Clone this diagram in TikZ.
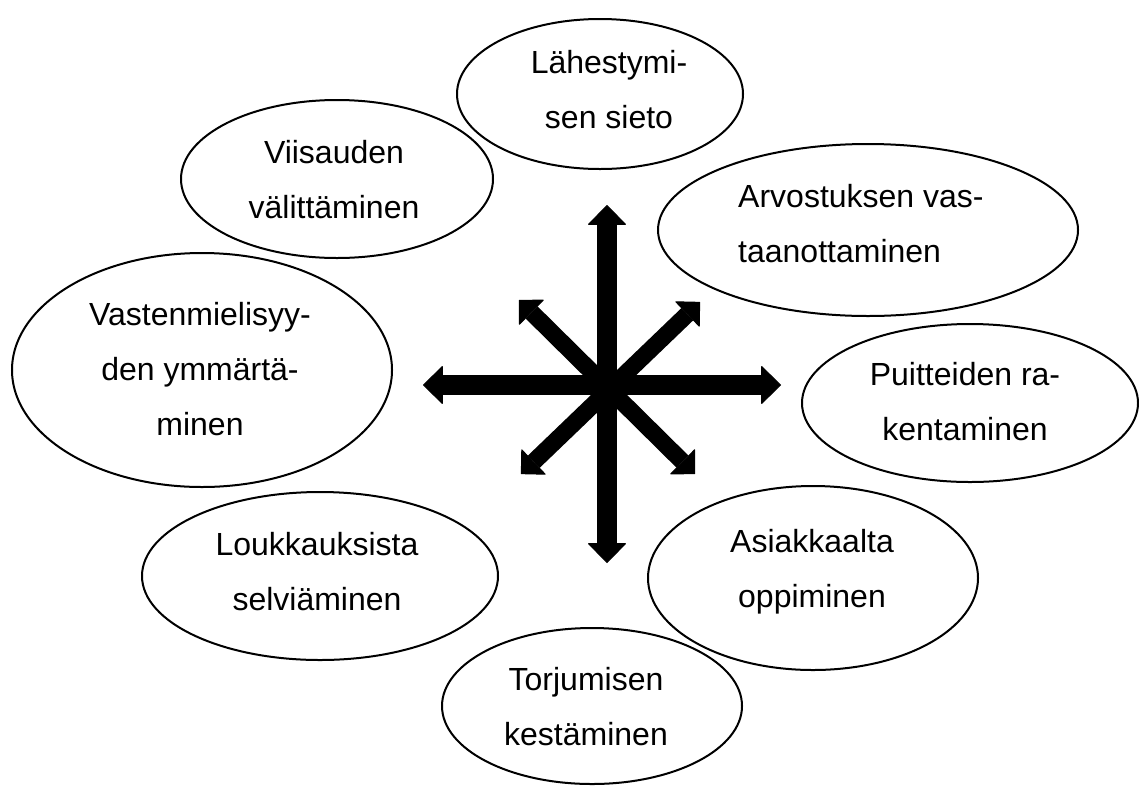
\documentclass[tikz,border=0pt]{standalone}
\usepackage{fontspec}
\setmainfont{Liberation Sans}
\usetikzlibrary{shapes.geometric,arrows.meta}
\tikzset{
  bubble/.style={draw, line width=2pt, ellipse, inner sep=0pt, fill=white},
  label/.style={font=\fontsize{32}{55}\selectfont, inner sep=0pt, anchor=base, align=center},
  leftlabel/.style={font=\fontsize{32}{55}\selectfont, inner sep=0pt, anchor=base west, align=left},
  bigarrow/.style={line width=20pt,
    {Triangle[width=39pt,length=20pt,line width=1pt,round]}-{Triangle[width=39pt,length=20pt,line width=1pt,round]}},
  diagarrow/.style={line width=17pt,
    {Triangle[width=36pt,length=18pt,line width=1pt,round]}-{Triangle[width=36pt,length=18pt,line width=1pt,round]}}
}
\begin{document}
\begin{tikzpicture}[x=1pt,y=-1pt]
\useasboundingbox (0,0) rectangle (1139,785);
% ellipses
\node[bubble, minimum width=286pt, minimum height=150pt] (e1) at (600,94) {};
\node[bubble, minimum width=312pt, minimum height=158pt] (e2) at (337,179) {};
\node[bubble, minimum width=420pt, minimum height=172pt] (e3) at (868,230) {};
\node[bubble, minimum width=380pt, minimum height=234pt] (e4) at (202,370) {};
\node[bubble, minimum width=336pt, minimum height=158pt] (e5) at (970,403) {};
\node[bubble, minimum width=356pt, minimum height=168pt] (e6) at (320,576) {};
\node[bubble, minimum width=330pt, minimum height=184pt] (e7) at (813,578) {};
\node[bubble, minimum width=300pt, minimum height=156pt] (e8) at (592,706) {};
% texts (anchor at the baseline of the last line)
\node[label] (t1) at (609,128) {Lähestymi-\\sen sieto};
\node[label] (t2) at (334,218) {Viisauden\\välittäminen};
\node[leftlabel] (t3) at (738,262) {Arvostuksen vas-\\taanottaminen};
\node[label] (t4) at (200,435) {Vastenmielisyy-\\den ymmärtä-\\minen};
\node[label] (t5) at (965,440) {Puitteiden ra-\\kentaminen};
\node[label] (t6) at (317,610) {Loukkauksista\\selviäminen};
\node[label] (t7) at (812,607) {Asiakkaalta\\oppiminen};
\node[label] (t8) at (586,745) {Torjumisen\\kestäminen};
% arrow end points
\coordinate (vtop) at (607,205);
\coordinate (vbot) at (607,563);
\coordinate (hl) at (423,385);
\coordinate (hr) at (781,385);
\coordinate (dtl) at (519,300);
\coordinate (dbr) at (695,474);
\coordinate (dtr) at (700,302);
\coordinate (dbl) at (521,474);
\draw[diagarrow] (dtl) -- (dbr);
\draw[diagarrow] (dtr) -- (dbl);
\draw[bigarrow] (vtop) -- (vbot);
\draw[bigarrow] (hl) -- (hr);
\end{tikzpicture}
\end{document}
